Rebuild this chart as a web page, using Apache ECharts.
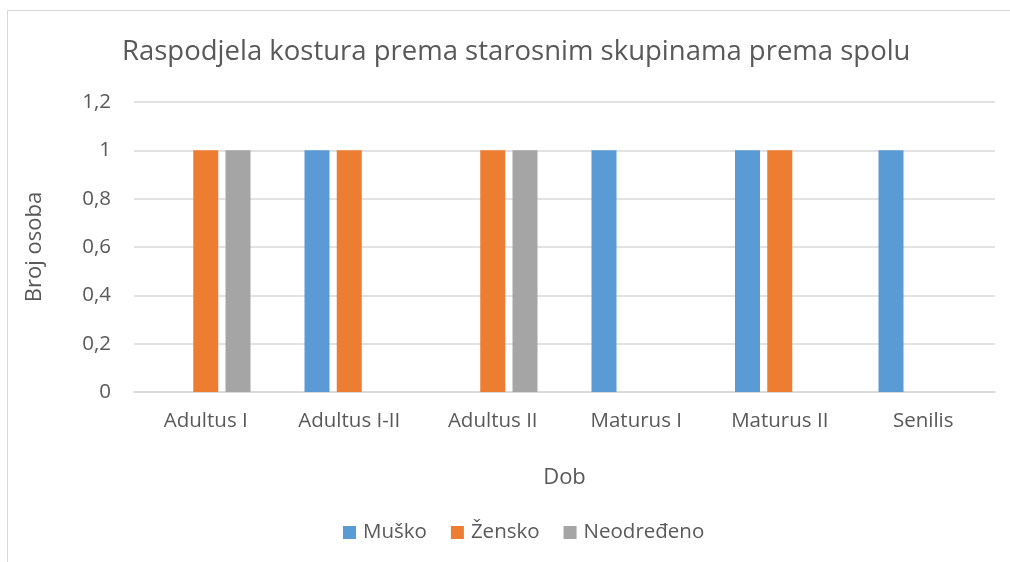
<!DOCTYPE html>
<html><head><meta charset="utf-8">
<script src="https://cdn.jsdelivr.net/npm/echarts@6/dist/echarts.min.js"></script>
<style>html,body{margin:0;padding:0;background:#fff}#c{width:1010px;height:562px}
#frame{position:absolute;left:7px;top:10px;width:1010px;height:600px;border:1px solid #d9d9d9;box-sizing:border-box;pointer-events:none}</style>
</head><body><div id="c"></div><div id="frame"></div>
<script>
const categories = ['Adultus I','Adultus I-II','Adultus II','Maturus I','Maturus II','Senilis'];
const musko = [0,1,0,1,1,1];
const zensko = [1,1,1,0,1,0];
const neodredeno = [1,0,1,0,0,0];
const yTicks = [0,0.2,0.4,0.6,0.8,1,1.2];
const FONT = 'Open Sans';
const chart = echarts.init(document.getElementById('c'));
const mk = (name, data, color) => ({name, type:'bar', data, barWidth:25, barGap:'29%', itemStyle:{color}});
chart.setOption({
  animation:false,
  textStyle:{fontFamily:FONT},
  title:{text:'Raspodjela kostura prema starosnim skupinama prema spolu', left:117, top:33,
    textStyle:{fontFamily:FONT, fontSize:27.5, fontWeight:'normal', color:'#595959'}},
  legend:{bottom:14, left:338, itemWidth:13, itemHeight:13, itemGap:24, icon:'rect',
    textStyle:{fontFamily:FONT, fontSize:20.5, color:'#595959', padding:[0,0,0,2]}},
  grid:{left:134, right:15, top:102, bottom:170, containLabel:false},
  xAxis:{type:'category', data:categories, name:'Dob', nameLocation:'middle', nameGap:75,
    nameTextStyle:{fontFamily:FONT, fontSize:22, color:'#595959'},
    axisLine:{lineStyle:{color:'#d9d9d9', width:1.5}}, axisTick:{show:false},
    axisLabel:{fontFamily:FONT, fontSize:20.5, color:'#595959', margin:19}},
  yAxis:{type:'value', min:0, max:1.2, interval:0.2, name:'Broj osoba', nameLocation:'middle', nameGap:88,
    nameTextStyle:{fontFamily:FONT, fontSize:22, color:'#595959'},
    axisLine:{show:false}, axisTick:{show:false},
    splitLine:{lineStyle:{color:'#d9d9d9', width:1.5}},
    axisLabel:{fontFamily:FONT, fontSize:20.5, color:'#595959', margin:23,
      formatter:v=>{const t=yTicks.find(x=>Math.abs(x-v)<1e-9); return String(t!==undefined?t:v).replace('.',',');}}},
  series:[mk('Muško',musko,'#5b9bd5'), mk('Žensko',zensko,'#ed7d31'), mk('Neodređeno',neodredeno,'#a5a5a5')]
});
</script></body></html>
